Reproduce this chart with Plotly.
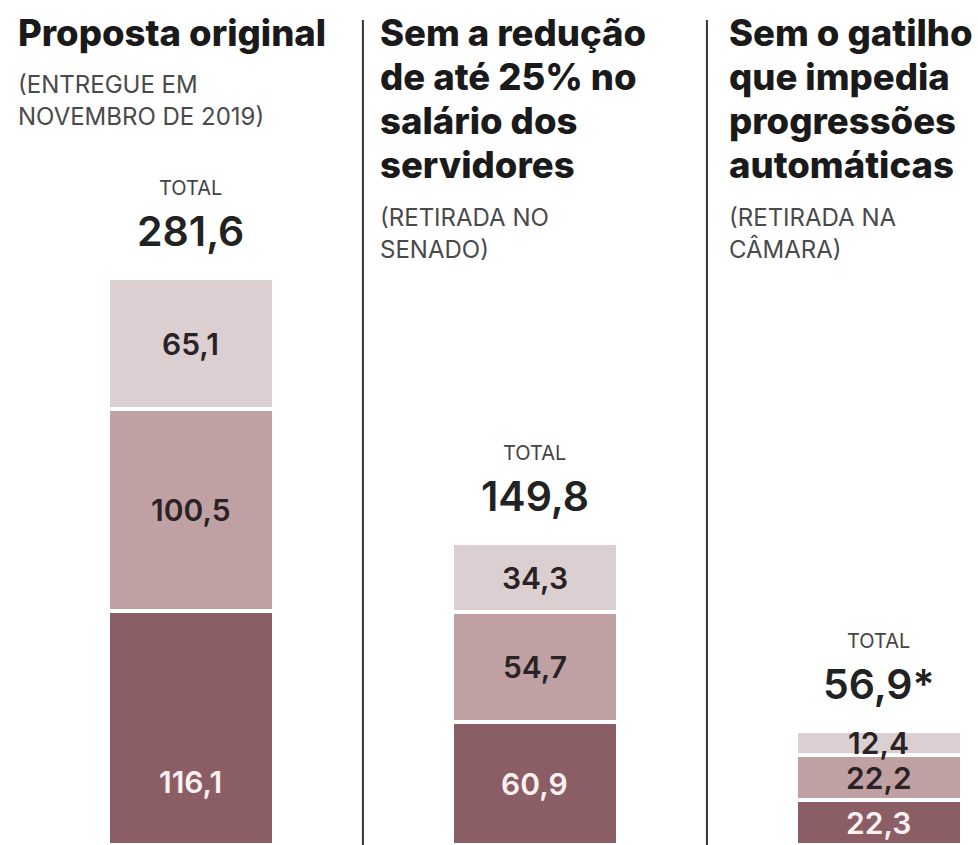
import plotly.graph_objects as go

# ---- data ----
panels = [0, 1, 2]
servidores_ativos = [116.1, 60.9, 22.3]      # bottom (dark)
segundo_grupo = [100.5, 54.7, 22.2]          # middle
terceiro_grupo = [65.1, 34.3, 12.4]          # top (light)
total_labels = ["281,6", "149,8", "56,9*"]
headings = [
    ["Proposta original"],
    ["Sem a redução", "de até 25% no", "salário dos", "servidores"],
    ["Sem o gatilho", "que impedia", "progressões", "automáticas"],
]
subtitles = [
    ["(ENTREGUE EM", "NOVEMBRO DE 2019)"],
    ["(RETIRADA NO", "SENADO)"],
    ["(RETIRADA NA", "CÂMARA)"],
]

W, H = 978, 845
colors = ["#8b5e65", "#bfa1a4", "#dccfd1"]
text_colors = ["#fbf1f1", "#2a2224", "#2a2224"]
series = [servidores_ativos, segundo_grupo, terceiro_grupo]

fig = go.Figure()
for vals, col in zip(series, colors):
    fig.add_trace(go.Bar(
        x=panels, y=vals, width=0.483,
        marker=dict(color=col, line=dict(color="white", width=4)),
        hoverinfo="skip", showlegend=False,
    ))

ann = []
FONT = "Inter"


def fmt(v):
    return f"{v:.1f}".replace(".", ",")


# segment labels
for i, p in enumerate(panels):
    base = 0.0
    for s, vals in enumerate(series):
        v = vals[i]
        off = min(v / 2, 31.5) if s == 0 else v / 2
        ann.append(dict(
            x=p, y=base + off, xref="x", yref="y", text=fmt(v),
            showarrow=False, yanchor="middle", xanchor="center",
            font=dict(family=FONT, size=30, color=text_colors[s], weight=600),
        ))
        base += v
    top = sum(vals[i] for vals in series)
    ann.append(dict(
        x=p, y=top, xref="x", yref="y", text=total_labels[i],
        showarrow=False, yanchor="middle", yshift=47,
        font=dict(family=FONT, size=41, color="#222222", weight=600),
    ))
    ann.append(dict(
        x=p, y=top, xref="x", yref="y", text="TOTAL",
        showarrow=False, yanchor="middle", yshift=90,
        font=dict(family=FONT, size=20, color="#444444", weight=400),
    ))


def py(pix):
    return 1 - pix / H


text_left = [16, 378, 727]
for i in range(3):
    y0 = 33
    for j, line in enumerate(headings[i]):
        ann.append(dict(
            x=text_left[i] / W, y=py(y0 + 44 * j), xref="paper", yref="paper",
            text=line, showarrow=False, xanchor="left", yanchor="middle",
            font=dict(family=FONT, size=36.5, color="#1a1a1a", weight=800),
        ))
    ys = y0 + 44 * (len(headings[i]) - 1) + 52
    for j, line in enumerate(subtitles[i]):
        ann.append(dict(
            x=text_left[i] / W, y=py(ys + 32 * j), xref="paper", yref="paper",
            text=line, showarrow=False, xanchor="left", yanchor="middle",
            font=dict(family=FONT, size=24, color="#4a4a4a", weight=400),
        ))

shapes = []
for xs in [0.5, 1.5]:
    shapes.append(dict(type="line", xref="x", yref="paper", x0=xs, x1=xs,
                       y0=0, y1=py(20), line=dict(color="#333333", width=2)))

fig.update_layout(
    width=W, height=H, barmode="stack", bargap=0,
    margin=dict(l=0, r=0, t=0, b=0),
    paper_bgcolor="white", plot_bgcolor="white",
    xaxis=dict(range=[-0.555, 2.288], visible=False, fixedrange=True),
    yaxis=dict(range=[0, 420], visible=False, fixedrange=True),
    annotations=ann, shapes=shapes,
)
fig.write_html("out.html", config={"displayModeBar": False})
